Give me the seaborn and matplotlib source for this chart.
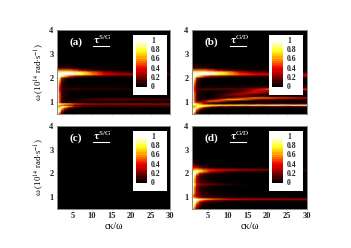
import numpy as np
import seaborn as sns
import matplotlib.pyplot as plt
from matplotlib.patches import Rectangle

plt.rcParams['font.family'] = ['Liberation Serif', 'DejaVu Serif']
plt.rcParams['mathtext.fontset'] = 'stix'

W, H = 351, 248

# cK/omega columns and omega rows (rows listed from top to bottom)
ck_cols = [1, 1.3, 1.7, 2.2, 3, 4, 5.5, 7.5, 10, 13, 17, 22, 30]
omega_rows = [4.0, 2.6, 2.42, 2.32, 2.24, 2.16, 2.08, 2.0, 1.9, 1.75, 1.62, 1.55, 1.48,
              1.4, 1.32, 1.25, 1.18, 1.12, 1.05, 0.98, 0.93, 0.88, 0.83, 0.78, 0.7, 0.6, 0.5]

tau_a = [
    [.7, 0, 0, 0, 0, 0, 0, 0, 0, 0, 0, 0, 0],
    [.7, 0, 0, 0, 0, 0, 0, 0, 0, 0, 0, 0, 0],
    [.7, .1, .1, .1, .1, .1, .05, 0, 0, 0, 0, 0, 0],
    [.7, .6, .6, .6, .6, .6, .5, .3, .15, .08, .04, .02, 0],
    [.7, .95, 1, 1, 1, 1, .95, .85, .55, .3, .15, .08, .03],
    [.7, .95, 1, 1, 1, 1, .95, .8, .6, .4, .3, .25, .1],
    [.8, 1, 1, .9, .7, .5, .3, .15, .1, .08, .06, .04, .02],
    [.9, 1, .9, .3, .1, .05, .02, 0, 0, 0, 0, 0, 0],
    [.9, 1, .7, .2, .05, 0, 0, 0, 0, 0, 0, 0, 0],
    [.9, 1, .5, .1, .03, 0, 0, 0, 0, 0, 0, 0, 0],
    [1, 1, .4, .1, .03, .02, .02, .02, .02, .02, .02, .01, 0],
    [1, 1, .4, .15, .1, .1, .1, .08, .08, .08, .06, .04, 0],
    [1, 1, .4, .1, .04, .02, .02, .02, .02, .02, .02, .01, 0],
    [1, 1, .5, .12, .05, .02, 0, 0, 0, 0, 0, 0, 0],
    [1, 1, .5, .12, .05, .02, 0, 0, 0, 0, 0, 0, 0],
    [1, 1, .5, .12, .05, .02, 0, 0, 0, 0, 0, 0, 0],
    [1, 1, .5, .12, .05, .02, 0, .01, .03, .05, .05, .04, .02],
    [1, 1, .5, .12, .05, .03, .04, .08, .14, .16, .16, .15, .12],
    [1, 1, .5, .12, .05, .04, .05, .05, .05, .04, .04, .03, .03],
    [.9, 1, .5, .15, .1, .08, .05, .03, .03, .03, .03, .03, .03],
    [1, 1, 1, .95, .85, .7, .5, .4, .32, .3, .3, .3, .28],
    [.7, .8, .7, .5, .35, .25, .15, .1, .1, .1, .1, .1, .1],
    [.6, .7, .5, .85, .9, .7, .35, .15, .12, .12, .12, .12, .12],
    [.8, .7, .9, 1, .6, .25, .08, .03, .02, .02, .02, .02, .02],
    [1, .9, 1, .6, .2, .05, 0, 0, 0, 0, 0, 0, 0],
    [1, 1, .9, .3, .05, 0, 0, 0, 0, 0, 0, 0, 0],
    [1, 1, .4, .15, 0, 0, 0, 0, 0, 0, 0, 0, 0],
]

tau_b = [
    [.7, 0, 0, 0, 0, 0, 0, 0, 0, 0, 0, 0, 0],
    [.7, 0, 0, 0, 0, 0, 0, 0, 0, 0, 0, 0, 0],
    [.7, .1, .1, .1, .1, .1, .05, 0, 0, 0, 0, 0, 0],
    [.7, .6, .6, .6, .6, .6, .5, .35, .2, .1, .06, .04, .02],
    [.7, .95, 1, 1, 1, 1, 1, .9, .7, .4, .2, .12, .08],
    [.7, .95, 1, 1, 1, 1, .95, .85, .7, .5, .4, .35, .3],
    [.8, 1, 1, .9, .7, .5, .3, .2, .12, .1, .08, .1, .25],
    [.9, 1, .9, .3, .1, .05, .02, 0, 0, 0, 0, 0, .03],
    [.9, 1, .7, .2, .05, 0, 0, 0, 0, 0, 0, 0, 0],
    [.9, 1, .5, .1, .03, 0, 0, 0, 0, 0, 0, 0, 0],
    [1, 1, .4, .1, .04, .03, .03, .03, .03, .04, .06, .1, .05],
    [1, 1, .4, .15, .15, .16, .16, .16, .15, .15, .3, .6, .4],
    [1, 1, .4, .1, .04, .03, .03, .03, .04, .08, .35, .25, .1],
    [1, 1, .5, .12, .05, .02, 0, .02, .04, .2, .4, .08, .03],
    [1, 1, .5, .12, .05, .02, .01, .04, .18, .3, .1, .03, .01],
    [1, 1, .5, .12, .05, .02, .01, .08, .15, .1, .06, .05, .03],
    [1, 1, .5, .12, .05, .02, .02, .04, .08, .35, .6, .5, .3],
    [1, 1, .5, .12, .05, .03, .08, .35, .65, .65, .25, .15, .08],
    [1, 1, .5, .15, .1, .25, .55, .55, .25, .08, .04, .03, .03],
    [.9, 1, .6, .45, .45, .3, .15, .05, .03, .03, .03, .03, .03],
    [1, 1, 1, .85, .6, .3, .15, .1, .1, .12, .15, .15, .15],
    [.7, .8, .8, .8, .8, .8, .8, .85, .85, .85, .9, .95, .95],
    [.6, .7, .5, .85, .95, .8, .55, .35, .25, .2, .2, .2, .2],
    [.8, .7, .9, 1, .65, .25, .08, .03, .02, .02, .02, .02, .02],
    [1, .9, 1, .6, .2, .05, 0, 0, 0, 0, 0, 0, 0],
    [1, 1, .9, .3, .05, 0, 0, 0, 0, 0, 0, 0, 0],
    [1, 1, .4, .15, 0, 0, 0, 0, 0, 0, 0, 0, 0],
]

tau_c = [[0] * len(ck_cols) for _ in omega_rows]

tau_d = [
    [.75, 0, 0, 0, 0, 0, 0, 0, 0, 0, 0, 0, 0],
    [.75, 0, 0, 0, 0, 0, 0, 0, 0, 0, 0, 0, 0],
    [.7, .15, .08, .04, .02, 0, 0, 0, 0, 0, 0, 0, 0],
    [.7, .28, .25, .2, .12, .06, .03, .01, 0, 0, 0, 0, 0],
    [.7, .42, .42, .38, .25, .15, .08, .05, .03, .02, .01, .01, 0],
    [.7, .65, .7, .8, .72, .55, .45, .4, .35, .3, .25, .18, .1],
    [.9, .95, .95, 1, .85, .6, .35, .22, .12, .07, .05, .03, .01],
    [1, 1, 1, .75, .3, .14, .07, .03, .01, 0, 0, 0, 0],
    [1, 1, .9, .35, .14, .06, .03, .01, 0, 0, 0, 0, 0],
    [1, 1, .65, .28, .1, .05, .02, 0, 0, 0, 0, 0, 0],
    [1, 1, .65, .28, .14, .1, .06, .03, .01, 0, 0, 0, 0],
    [1, 1, .8, .4, .26, .22, .18, .14, .07, .03, .01, 0, 0],
    [1, 1, .65, .28, .14, .1, .06, .03, .01, 0, 0, 0, 0],
    [1, 1, .55, .25, .08, .05, .02, 0, 0, 0, 0, 0, 0],
    [1, 1, .55, .25, .1, .05, .02, .01, 0, 0, 0, 0, 0],
    [1, 1, .55, .25, .1, .05, .03, .01, 0, 0, 0, 0, 0],
    [1, .9, .55, .25, .12, .07, .04, .02, .01, 0, 0, 0, 0],
    [.8, .7, .45, .25, .14, .08, .05, .03, .02, .01, 0, 0, 0],
    [.7, .55, .42, .28, .18, .12, .08, .05, .03, .02, .02, .02, .01],
    [.9, .8, .65, .5, .32, .22, .15, .1, .08, .06, .05, .05, .04],
    [1, 1, 1, 1, .95, .8, .62, .5, .42, .36, .32, .3, .28],
    [.95, .95, 1, 1, .7, .45, .28, .2, .16, .14, .12, .11, .1],
    [.7, .8, 1, .8, .42, .22, .1, .06, .04, .03, .03, .02, .02],
    [.7, .9, 1, .65, .25, .1, .05, .02, .01, .01, 0, 0, 0],
    [.9, 1, .9, .45, .16, .06, .02, .01, 0, 0, 0, 0, 0],
    [1, 1, .65, .3, .1, .03, .01, 0, 0, 0, 0, 0, 0],
    [1, .9, .45, .18, .06, .02, 0, 0, 0, 0, 0, 0, 0],
]

bar_levels = [1, .95, .9, .85, .8, .75, .7, .65, .6, .55, .5, .45, .4, .35, .3, .25, .2, .15, .1, .05, 0]
bar_ticks = [1, 0.8, 0.6, 0.4, 0.2, 0]
bar_tick_labels = ['1', '0.8', '0.6', '0.4', '0.2', '0']
ck_ticks = [5, 10, 15, 20, 25, 30]
omega_ticks = [1, 2, 3, 4]
panel_labels = ['(a)', '(b)', '(c)', '(d)']
tau_labels = ['S/G', 'G/D', 'S/G', 'G/D']
panel_data = [tau_a, tau_b, tau_c, tau_d]
scale_colors = ['#000000', '#7a0000', '#f00000', '#ff8c00', '#ffff10', '#fffff0']

# pixel boxes: left, top, right, bottom
panel_boxes = [(57, 30, 170, 114), (192, 30, 307, 114), (57, 126, 170, 209), (192, 126, 307, 209)]


def px_axes(fig, box):
    l, t, r, b = box
    return fig.add_axes([l / W, 1 - b / H, (r - l) / W, (b - t) / H])


fig = plt.figure(figsize=(W / 100, H / 100), dpi=100, facecolor='white')
cmap = sns.blend_palette(scale_colors, as_cmap=True)

rows_up = np.array(omega_rows[::-1])
cols = np.array(ck_cols, dtype=float)
col_idx = np.arange(len(cols), dtype=float)
row_idx = np.arange(len(rows_up), dtype=float)

for i, box in enumerate(panel_boxes):
    ax = px_axes(fig, box)
    sns.heatmap(np.array(panel_data[i], dtype=float)[::-1], ax=ax, cmap=cmap, vmin=0, vmax=1, cbar=False,
                xticklabels=False, yticklabels=False, shading='gouraud')
    ax.set_facecolor('black')
    # columns and rows are not evenly spaced, so map index to real value
    ax.set_xscale('function', functions=(lambda v: np.interp(v, col_idx, cols), lambda v: np.interp(v, cols, col_idx)))
    ax.set_yscale('function', functions=(lambda v: np.interp(v, row_idx, rows_up), lambda v: np.interp(v, rows_up, row_idx)))
    ax.set_xlim(0, len(cols) - 1)
    ax.set_ylim(0, len(rows_up) - 1)
    ax.set_xticks(np.interp(ck_ticks, cols, col_idx))
    ax.set_yticks(np.interp(omega_ticks, rows_up, row_idx))
    ax.minorticks_off()
    ax.tick_params(length=1, width=0.4, color='#888888', pad=1.5, labelsize=6, labelcolor='#222222')
    ax.set_xticklabels([str(t) for t in ck_ticks] if i >= 2 else [], fontweight='bold')
    ax.set_yticklabels([str(t) for t in omega_ticks], fontweight='bold')
    for s in ax.spines.values():
        s.set_visible(True)
        s.set_color('#8a8a8a')
        s.set_linewidth(0.7)
    if i >= 2:
        ax.set_xlabel('c\u03ba/\u03c9', fontsize=7, labelpad=1)
    if i % 2 == 0:
        ax.set_ylabel('\u03c9 (10$^{14}$ rad$\\cdot$s$^{-1}$)', fontsize=6.3, labelpad=2)

    l, t, r, b = box
    fig.text((l + 12) / W, 1 - (t + 12) / H, panel_labels[i], color='white', fontsize=8, fontweight='bold',
             ha='left', va='center')
    tx = l + 36 if i % 2 == 0 else l + 38
    fig.text(tx / W, 1 - (t + 10) / H, '$\\mathbf{\\tau}^{\\mathrm{' + tau_labels[i] + '}}$',
             color='white', fontsize=7.5, ha='left', va='center')
    fig.add_artist(plt.Line2D([(tx) / W, (tx + 16) / W], [1 - (t + 15.5) / H] * 2, color='white', lw=0.8))

    # legend box with the colour scale
    bx = r - 37 if i % 2 == 0 else r - 38
    fig.add_artist(Rectangle((bx / W, 1 - (t + 65) / H), 34 / W, 60 / H, transform=fig.transFigure,
                             facecolor='white', edgecolor='none', zorder=3))
    cax = px_axes(fig, (bx + 3, t + 11, bx + 14, t + 57))
    cax.set_zorder(4)
    sns.heatmap(np.array(bar_levels).reshape(-1, 1), ax=cax, cmap=cmap, vmin=0, vmax=1, cbar=False,
                xticklabels=False, yticklabels=False)
    for v, lab in zip(bar_ticks, bar_tick_labels):
        fig.text((bx + 18) / W, 1 - (t + 11 + (1 - v) * 46) / H, lab, fontsize=5.6, fontweight='bold',
                 color='#222222', ha='left', va='center', zorder=5)

fig.savefig('out.png', dpi=100)
